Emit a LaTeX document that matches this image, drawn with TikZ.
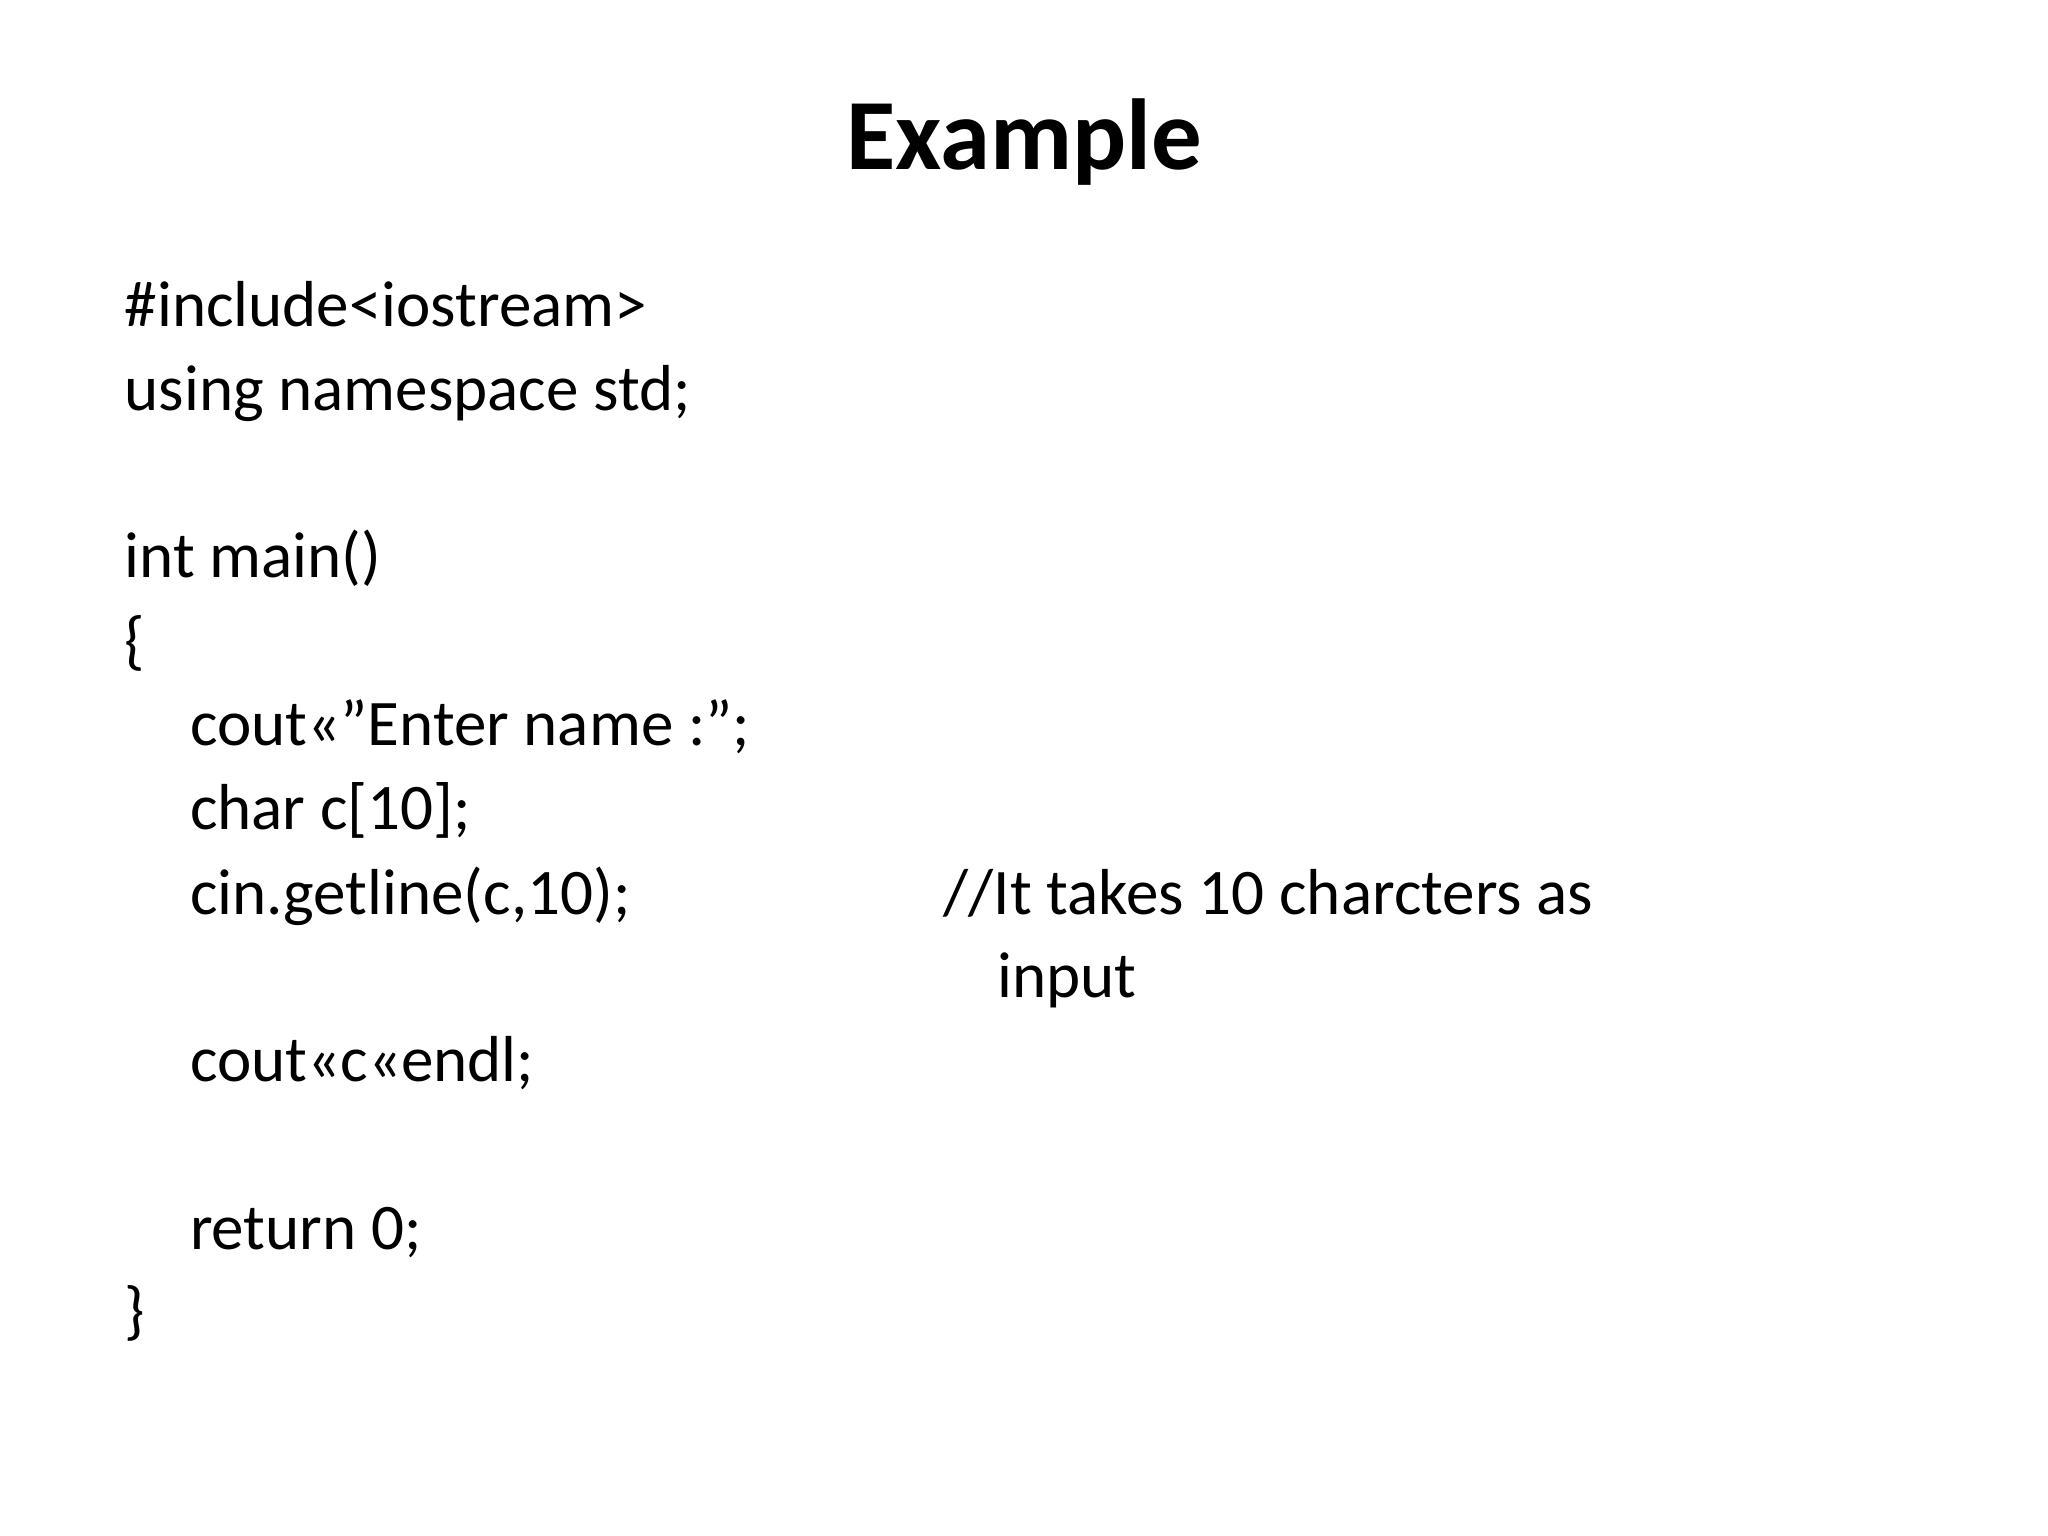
\documentclass[tikz,border=0pt]{standalone}
\usepackage{fontspec}
\setmainfont{Carlito}
\begin{document}
\begin{tikzpicture}[x=0.013061cm,y=-0.013061cm,
  code/.style={anchor=base west,inner sep=0pt,font=\fontsize{18.5}{22}\selectfont}]
\useasboundingbox[fill=white] (0,0) rectangle (1568,1176);
\node[anchor=base,inner sep=0pt,font=\fontsize{28.7}{34}\selectfont\bfseries] (title) at (784,130) {Example};
\node[code] (l1) at (95,250) {\#include<iostream>};
\node[code] (l2) at (95,314) {using namespace std;};
\node[code] (l3) at (95,442) {int main()};
\node[code] (l4) at (95,507) {\{};
\node[code] (l5) at (145,571) {cout<<"Enter name :";};
\node[code] (l6) at (145,635) {char c[10];};
\node[code] (l7) at (145,700) {cin.getline(c,10);};
\node[code] (c1) at (722,700) {//It takes 10 charcters as};
\node[code] (c2) at (763,764) {input};
\node[code] (l8) at (145,828) {cout<<c<<endl;};
\node[code] (l9) at (145,957) {return 0;};
\node[code] (l10) at (95,1020) {\}};
\end{tikzpicture}
\end{document}
